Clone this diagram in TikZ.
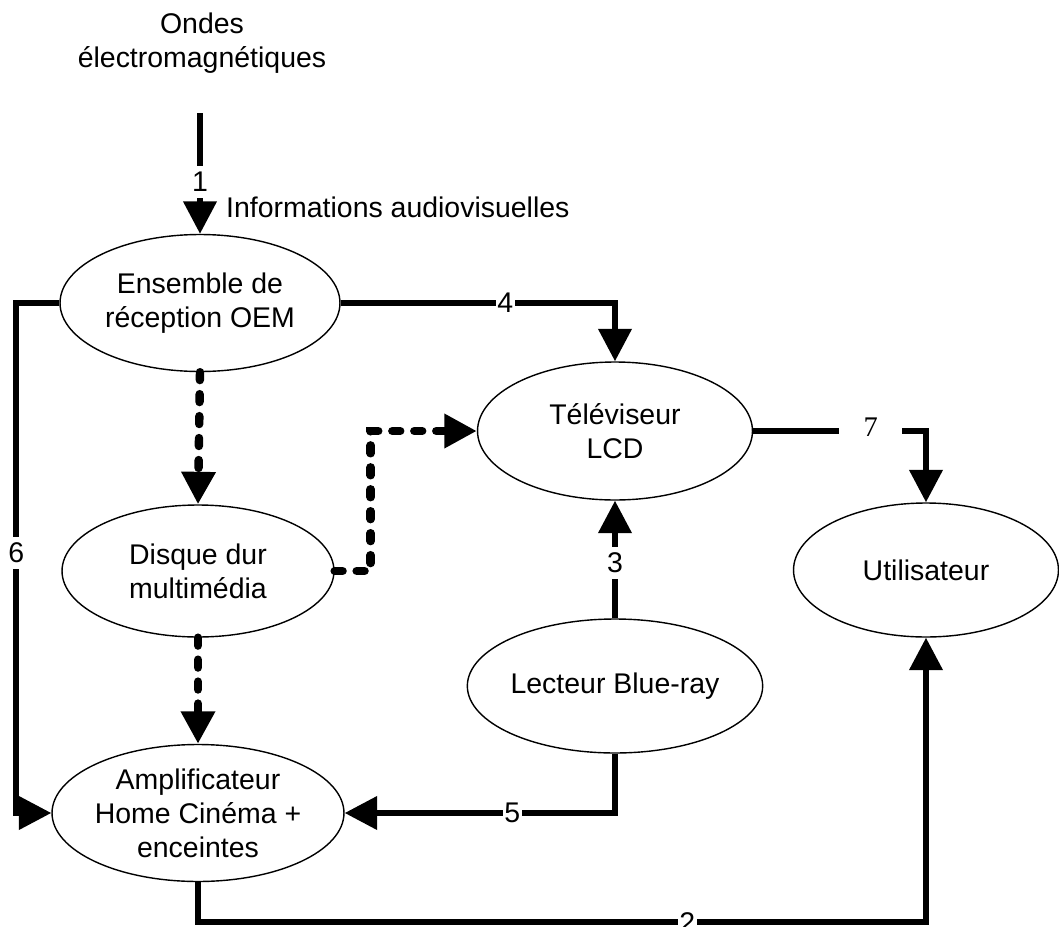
\documentclass[tikz,border=0pt]{standalone}
\usepackage{fontspec}
\setmainfont{Liberation Sans}
\newfontfamily\chiffreserif{Liberation Serif}
\usetikzlibrary{shapes.geometric,arrows.meta}
\begin{document}
\begin{tikzpicture}[x=0.02cm,y=-0.02cm,
  every node/.style={font=\fontsize{16.2}{19.3}\selectfont},
  bloc/.style={ellipse,draw,line width=0.8pt,inner sep=0pt,align=center,minimum width=5.5cm,minimum height=2.7cm},
  fleche/.style={line width=3.3pt,-{Triangle[width=18.5pt,length=18.5pt]}},
  pointille/.style={fleche,line width=4.8pt,line cap=round,dash pattern=on 4.5pt off 8pt},
  num/.style={fill=white,inner sep=3.5pt},
  numh/.style={fill=white,inner xsep=0.8pt,inner ysep=3pt}]
  \useasboundingbox (0,0) rectangle (1059,927);
  \node[align=center] (ondes) at (202,43) {Ondes\\électromagnétiques};
  \node[anchor=west] (info) at (220,207) {Informations audiovisuelles};
  \node[bloc,minimum width=5.6cm,minimum height=2.74cm] (ens) at (200,303) {Ensemble de\\réception OEM};
  \node[bloc,minimum height=2.76cm] (tele) at (615,431) {Téléviseur\\LCD};
  \node[bloc,minimum width=5.44cm,minimum height=2.64cm] (disque) at (198,571) {Disque dur\\multimédia};
  \node[bloc,minimum width=5.3cm,minimum height=2.68cm] (util) at (926,570) {Utilisateur};
  \node[bloc,minimum height=2.68cm] (lecteur) at (615,686) {Lecteur Blue-ray};
  \node[bloc,minimum width=5.82cm,minimum height=2.74cm] (ampli) at (198,813) {Amplificateur\\Home Cinéma +\\enceintes};
  \coordinate (depart) at (200,113);
  \draw[fleche] (depart) -- node[num,pos=0.57] {1} (ens.north);
  \draw[fleche] (ens.east) -| node[numh,pos=0.3] {4} (tele.north);
  \draw[fleche] (ens.west) -- ++(-43,0) |- node[num,pos=0.245] {6} (ampli.west);
  \draw[pointille] (ens.south) -- (disque.north);
  \draw[pointille] (disque.east) -- ++(36,0) |- (tele.west);
  \draw[pointille] (disque.south) -- (ampli.north);
  \draw[fleche] (lecteur.north) -- node[num,pos=0.47] {3} (tele.south);
  \draw[fleche] (lecteur.south) |- node[numh,pos=0.69] {5} (ampli.east);
  \draw[fleche] (tele.east) -| node[num,pos=0.34,inner xsep=14pt,yshift=2pt,font=\chiffreserif\fontsize{16.2}{19.3}\selectfont] {7} (util.north);
  \draw[fleche] (ampli.south) -- ++(0,40) -| node[numh,pos=0.336] {2} (util.south);
\end{tikzpicture}
\end{document}
